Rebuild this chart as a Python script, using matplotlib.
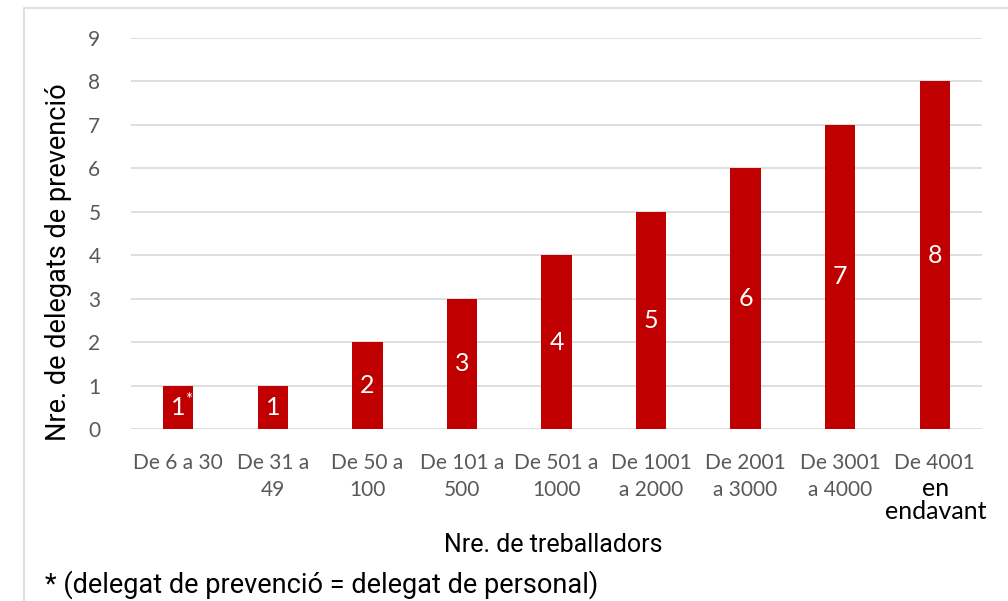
import matplotlib
matplotlib.use("Agg")
import matplotlib.pyplot as plt
from matplotlib.patches import Rectangle

categories = ["De 6 a 30", "De 31 a\n49", "De 50 a\n100", "De 101 a\n500", "De 501 a\n1000",
              "De 1001\na 2000", "De 2001\na 3000", "De 3001\na 4000", "De 4001"]
extra_last_label = "en\nendavant"
values = [1, 1, 2, 3, 4, 5, 6, 7, 8]
bar_labels = ["1", "1", "2", "3", "4", "5", "6", "7", "8"]
y_ticks = [0, 1, 2, 3, 4, 5, 6, 7, 8, 9]

plt.rcParams['font.family'] = ['Lato', 'DejaVu Sans']

fig = plt.figure(figsize=(10.08, 6.01), dpi=100)
ax = fig.add_axes([131/1008, 1-429/601, (982-131)/1008, (429-38)/601])

x = list(range(len(categories)))
bars = ax.bar(x, values, width=0.32, color="#C00000", zorder=3)
ax.set_xlim(-0.5, len(categories) - 0.5)
ax.set_ylim(0, 9)
ax.set_yticks(y_ticks)
ax.set_yticklabels([str(t) for t in y_ticks], fontsize=15, color="#595959")
ax.set_xticks(x)
ax.set_xticklabels(categories, fontsize=15, color="#595959", linespacing=1.45)
ax.tick_params(axis='both', length=0)
ax.tick_params(axis='x', pad=17)
ax.tick_params(axis='y', pad=22)
ax.grid(axis='y', color="#D9D9D9", linewidth=1.2, zorder=0)
for s in ax.spines.values():
    s.set_visible(False)

for i, (b, lab) in enumerate(zip(bars, bar_labels)):
    ax.text(b.get_x() + b.get_width()/2, b.get_height()/2, lab, ha='center', va='center',
            color='white', fontsize=18, zorder=4)
ax.text(0 + 0.11, 0.66, "*", ha='center', va='center', color='white', fontsize=12, zorder=4)

# last label extra lines in black
fig.text(936/1008, 1-500/601, extra_last_label, ha='center', va='center', fontsize=18,
         color='black', linespacing=1.0)

ax.set_ylabel("Nre. de delegats de prevenció", fontsize=19.5, color='black',
              family=['Roboto', 'DejaVu Sans'])
ax.yaxis.set_label_coords(-(131-72)/851, (429-262)/391)
fig.text(553/1008, 1-545/601, "Nre. de treballadors", ha='center', va='center', fontsize=18,
         color='black', family=['Roboto', 'DejaVu Sans'])
fig.text(45/1008, 1-585/601, "* (delegat de prevenció = delegat de personal)", ha='left', va='center',
         fontsize=19.5, color='black', family=['Roboto', 'DejaVu Sans'])

fig.patches.append(Rectangle((24/1008, -0.1), 1.2, 0.1 + 1-8/601, transform=fig.transFigure,
                             fill=False, edgecolor="#D9D9D9", linewidth=1.2))

fig.savefig("out.png", dpi=100)
